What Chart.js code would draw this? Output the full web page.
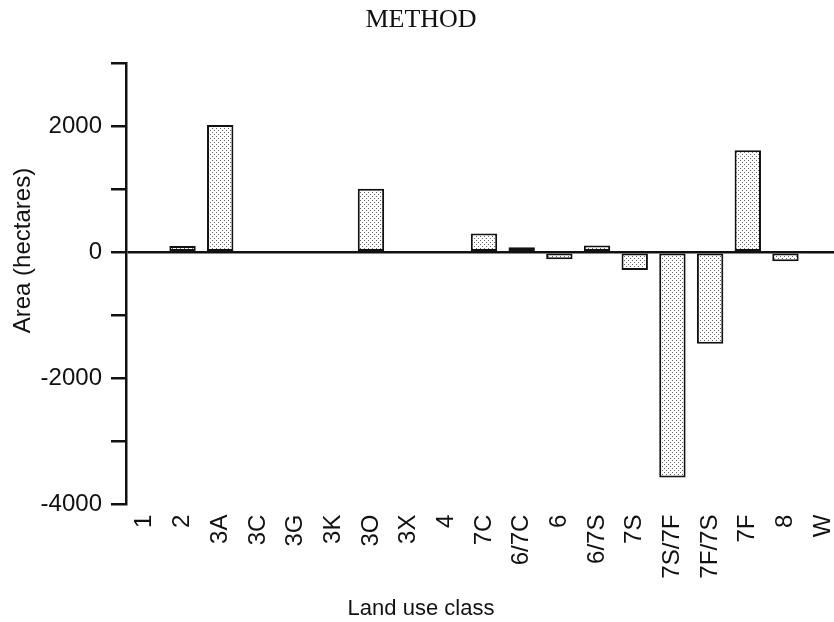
<!DOCTYPE html>
<html>
<head>
<meta charset="utf-8">
<script src="https://cdn.jsdelivr.net/npm/chart.js@4/dist/chart.umd.min.js"></script>
<style>
  body { margin: 0; background: #fff; overflow: hidden; }
  #wrap { width: 834px; height: 622px; overflow: hidden; }
</style>
</head>
<body>
<div id="wrap"><canvas id="areaChart" width="850" height="622"></canvas></div>
<script>
// land use classes along the x axis
var landClasses = ['1', '2', '3A', '3C', '3G', '3K', '3O', '3X', '4', '7C', '6/7C', '6', '6/7S', '7S', '7S/7F', '7F/7S', '7F', '8', 'W'];
// change in area (hectares)
var areaChange = [0, 100, 2020, 0, 0, 0, 1010, 0, 0, 300, 80, -110, 110, -280, -3570, -1450, 1620, -140, -20];
// y tick values that carry a label
var labelledTicks = [-4000, -2000, 0, 2000];

var canvas = document.getElementById("areaChart");
var ctx = canvas.getContext("2d");

// stippled fill like the printed bars
var tile = document.createElement("canvas");
tile.width = 4;
tile.height = 4;
var tctx = tile.getContext("2d");
tctx.fillStyle = "#ffffff";
tctx.fillRect(0, 0, 4, 4);
tctx.fillStyle = "#666666";
tctx.fillRect(0, 0, 1, 1);
tctx.fillRect(2, 2, 1, 1);
var dots = ctx.createPattern(tile, "repeat");

var sans = "'Liberation Sans', Arial, Helvetica, sans-serif";

new Chart(canvas, {
    type: "bar",
    data: {
        labels: landClasses,
        datasets: [{
            data: areaChange,
            backgroundColor: dots,
            borderColor: "#111",
            borderWidth: 2,
            borderSkipped: false,
            barPercentage: 0.7,
            categoryPercentage: 1
        }]
    },
    options: {
        responsive: false,
        animation: false,
        layout: { padding: { left: 0, right: 8, top: 0, bottom: 0 } },
        plugins: {
            legend: { display: false },
            tooltip: { enabled: false },
            title: {
                display: true,
                text: "METHOD",
                color: "#111",
                font: { family: "'Liberation Serif', 'Times New Roman', serif", size: 26, weight: "normal" },
                padding: { top: 5, bottom: 27 }
            },
            subtitle: {
                display: true,
                position: "bottom",
                text: "Land use class",
                color: "#111",
                font: { family: sans, size: 22 },
                padding: { top: 0, bottom: 0 }
            }
        },
        scales: {
            x: {
                grid: { display: false },
                border: { display: false },
                ticks: {
                    color: "#111",
                    font: { family: sans, size: 24 },
                    minRotation: 90,
                    maxRotation: 90,
                    autoSkip: false,
                    padding: 2
                },
                afterFit: function (scale) {
                    scale.height = 91;
                    scale.paddingLeft = 0;
                    scale.paddingRight = 0;
                }
            },
            y: {
                min: -4000,
                max: 3000,
                border: { display: true, color: "#111", width: 2.5 },
                grid: {
                    drawOnChartArea: true,
                    color: function (c) { return c.tick && c.tick.value === 0 ? "#111" : "rgba(0,0,0,0)"; },
                    lineWidth: 2.5,
                    tickColor: "#111",
                    tickWidth: 2.5,
                    tickLength: 15
                },
                ticks: {
                    stepSize: 1000,
                    color: "#111",
                    font: { family: sans, size: 24 },
                    padding: 9,
                    callback: function (v) { return labelledTicks.indexOf(v) >= 0 ? String(v) : ""; }
                },
                title: {
                    display: true,
                    text: "          Area (hectares)",
                    color: "#111",
                    font: { family: sans, size: 24 },
                    padding: { top: 9, bottom: 0 }
                },
                afterFit: function (scale) {
                    scale.width = 126;
                }
            }
        }
    }
});
</script>
</body>
</html>
